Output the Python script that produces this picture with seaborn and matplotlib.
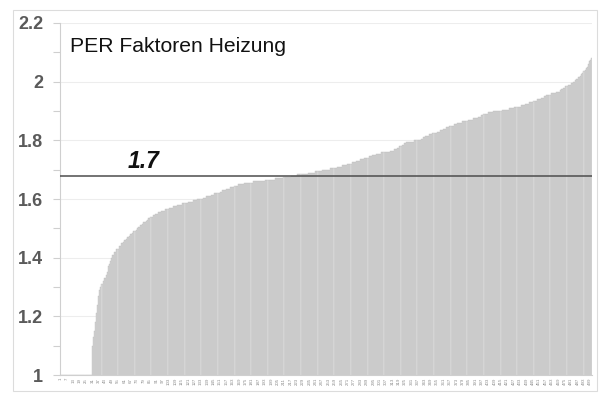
import numpy as np
import pandas as pd
import seaborn as sns
import matplotlib
matplotlib.use("Agg")
import matplotlib.pyplot as plt
from matplotlib.patches import Rectangle
from matplotlib.ticker import MultipleLocator

# ---- data (sorted PER factors) ----
per_values = [
    1.00, 1.00, 1.00, 1.00, 1.00, 1.00, 1.00, 1.00, 1.00, 1.00,
    1.00, 1.00, 1.00, 1.00, 1.00, 1.00, 1.00, 1.00, 1.00, 1.00,
    1.00, 1.00, 1.00, 1.00, 1.00, 1.00, 1.00, 1.00, 1.00, 1.00,
    1.10, 1.13, 1.15, 1.18, 1.21, 1.24, 1.27, 1.29, 1.30, 1.31,
    1.32, 1.33, 1.33, 1.34, 1.35, 1.37, 1.38, 1.39, 1.40, 1.41,
    1.41, 1.42, 1.42, 1.43, 1.43, 1.44, 1.44, 1.45, 1.45, 1.455,
    1.46, 1.46, 1.465, 1.47, 1.47, 1.475, 1.48, 1.48, 1.485, 1.49,
    1.49, 1.495, 1.50, 1.505, 1.505, 1.51, 1.51, 1.515, 1.52, 1.52,
    1.52, 1.525, 1.53, 1.535, 1.535, 1.54, 1.54, 1.545, 1.545, 1.55,
    1.55, 1.55, 1.555, 1.555, 1.555, 1.56, 1.56, 1.56, 1.56, 1.565,
    1.565, 1.565, 1.57, 1.57, 1.57, 1.57, 1.575, 1.575, 1.575, 1.575,
    1.58, 1.58, 1.58, 1.58, 1.58, 1.585, 1.585, 1.585, 1.585, 1.585,
    1.59, 1.59, 1.59, 1.59, 1.59, 1.595, 1.595, 1.595, 1.595, 1.60,
    1.60, 1.60, 1.60, 1.60, 1.605, 1.605, 1.605, 1.61, 1.61, 1.61,
    1.61, 1.61, 1.615, 1.615, 1.615, 1.62, 1.62, 1.62, 1.62, 1.62,
    1.625, 1.625, 1.63, 1.63, 1.63, 1.63, 1.635, 1.635, 1.635, 1.635,
    1.64, 1.64, 1.64, 1.64, 1.645, 1.645, 1.645, 1.65, 1.65, 1.65,
    1.65, 1.65, 1.65, 1.655, 1.655, 1.655, 1.655, 1.655, 1.655, 1.655,
    1.655, 1.66, 1.66, 1.66, 1.66, 1.66, 1.66, 1.66, 1.66, 1.66,
    1.66, 1.66, 1.66, 1.665, 1.665, 1.665, 1.665, 1.665, 1.665, 1.665,
    1.665, 1.665, 1.67, 1.67, 1.67, 1.67, 1.67, 1.67, 1.67, 1.67,
    1.675, 1.675, 1.675, 1.675, 1.675, 1.675, 1.675, 1.68, 1.68, 1.68,
    1.68, 1.68, 1.68, 1.685, 1.685, 1.685, 1.685, 1.685, 1.685, 1.685,
    1.685, 1.685, 1.685, 1.69, 1.69, 1.69, 1.69, 1.69, 1.69, 1.69,
    1.695, 1.695, 1.695, 1.695, 1.695, 1.695, 1.70, 1.70, 1.70, 1.70,
    1.70, 1.70, 1.70, 1.70, 1.705, 1.705, 1.705, 1.705, 1.705, 1.705,
    1.71, 1.71, 1.71, 1.71, 1.71, 1.715, 1.715, 1.715, 1.715, 1.715,
    1.72, 1.72, 1.72, 1.72, 1.725, 1.725, 1.725, 1.725, 1.73, 1.73,
    1.73, 1.73, 1.735, 1.735, 1.735, 1.735, 1.74, 1.74, 1.74, 1.74,
    1.745, 1.745, 1.745, 1.75, 1.75, 1.75, 1.75, 1.755, 1.755, 1.755,
    1.755, 1.755, 1.76, 1.76, 1.76, 1.76, 1.76, 1.76, 1.76, 1.76,
    1.765, 1.765, 1.765, 1.765, 1.77, 1.77, 1.77, 1.775, 1.775, 1.78,
    1.78, 1.785, 1.785, 1.79, 1.79, 1.795, 1.795, 1.795, 1.795, 1.795,
    1.795, 1.795, 1.795, 1.80, 1.80, 1.80, 1.80, 1.80, 1.80, 1.805,
    1.805, 1.81, 1.81, 1.815, 1.815, 1.815, 1.815, 1.82, 1.82, 1.82,
    1.825, 1.825, 1.825, 1.825, 1.83, 1.83, 1.83, 1.835, 1.835, 1.835,
    1.84, 1.84, 1.84, 1.845, 1.845, 1.845, 1.85, 1.85, 1.85, 1.85,
    1.855, 1.855, 1.855, 1.86, 1.86, 1.86, 1.86, 1.86, 1.865, 1.865,
    1.865, 1.865, 1.865, 1.87, 1.87, 1.87, 1.87, 1.87, 1.875, 1.875,
    1.875, 1.875, 1.875, 1.88, 1.88, 1.88, 1.885, 1.885, 1.89, 1.89,
    1.89, 1.89, 1.895, 1.895, 1.895, 1.895, 1.895, 1.90, 1.90, 1.90,
    1.90, 1.90, 1.90, 1.90, 1.90, 1.905, 1.905, 1.905, 1.905, 1.905,
    1.905, 1.905, 1.91, 1.91, 1.91, 1.91, 1.91, 1.915, 1.915, 1.915,
    1.915, 1.915, 1.915, 1.92, 1.92, 1.92, 1.92, 1.925, 1.925, 1.925,
    1.925, 1.93, 1.93, 1.93, 1.93, 1.935, 1.935, 1.935, 1.94, 1.94,
    1.94, 1.94, 1.945, 1.945, 1.945, 1.95, 1.95, 1.955, 1.955, 1.955,
    1.955, 1.96, 1.96, 1.96, 1.96, 1.96, 1.965, 1.965, 1.965, 1.965,
    1.97, 1.975, 1.975, 1.98, 1.98, 1.985, 1.985, 1.99, 1.99, 1.99,
    1.995, 1.995, 2.00, 2.00, 2.005, 2.01, 2.01, 2.015, 2.015, 2.02,
    2.025, 2.03, 2.035, 2.04, 2.045, 2.05, 2.06, 2.07, 2.075, 2.08,
]
bar_ids = list(range(1, len(per_values) + 1))
reference_value = 1.68
reference_label = "1.7"
chart_title = "PER Faktoren Heizung"
y_ticks = [1.0, 1.2, 1.4, 1.6, 1.8, 2.0, 2.2]
y_tick_labels = ["1", "1.2", "1.4", "1.6", "1.8", "2", "2.2"]
x_label_step = 6

df = pd.DataFrame({"id": bar_ids, "per": per_values})

sns.set_theme(style="white")
plt.rcParams["font.family"] = ["Liberation Sans", "DejaVu Sans"]

fig = plt.figure(figsize=(6.0, 3.95), dpi=100)
ax = fig.add_axes([60 / 600, 1 - 375 / 395, 532 / 600, 352 / 395])

sns.barplot(data=df, x="id", y="per", color="#dcdcdc", saturation=1,
            width=1.0, edgecolor="#b8b8b8", linewidth=0.25, ax=ax, zorder=2)

ax.set_ylim(1.0, 2.2)
ax.set_xlim(-0.5, len(per_values) - 0.5)

ax.set_yticks(y_ticks)
ax.set_yticklabels(y_tick_labels)
ax.yaxis.set_minor_locator(MultipleLocator(0.1))
ax.tick_params(axis="y", which="both", direction="out", length=5,
               width=0.8, color="#cfcfcf", pad=7, left=True)
for lbl in ax.get_yticklabels():
    lbl.set_fontsize(13)
    lbl.set_fontweight("bold")
    lbl.set_color("#5a5a5a")

xt = list(range(0, len(per_values), x_label_step))
ax.set_xticks(xt)
ax.set_xticklabels([str(bar_ids[i]) for i in xt], rotation=90,
                   fontsize=3.2, color="#8a8a8a")
ax.tick_params(axis="x", length=0, pad=2)

ax.grid(axis="y", which="major", color="#ededed", linewidth=0.8, zorder=0)
ax.set_axisbelow(True)
ax.set_xlabel("")
ax.set_ylabel("")

for s in ["top", "right"]:
    ax.spines[s].set_visible(False)
ax.spines["left"].set_color("#cfcfcf")
ax.spines["left"].set_linewidth(0.8)
ax.spines["bottom"].set_color("#cfcfcf")
ax.spines["bottom"].set_linewidth(0.8)

ax.axhline(reference_value, color="#4d4d4d", linewidth=1.1, zorder=4)
ax.text(63, 1.705, reference_label, fontsize=16.5, fontweight="bold",
        fontstyle="italic", color="#111111", va="baseline", ha="left", zorder=5)
ax.text(8.5, 2.101, chart_title, fontsize=15.2, color="#111111",
        va="baseline", ha="left", zorder=5)

fig.add_artist(Rectangle((13 / 600, 1 - 391 / 395), 584 / 600, 381 / 395,
                         transform=fig.transFigure, fill=False,
                         edgecolor="#dcdcdc", linewidth=0.8))

fig.savefig("out.png", dpi=100, facecolor="white")
